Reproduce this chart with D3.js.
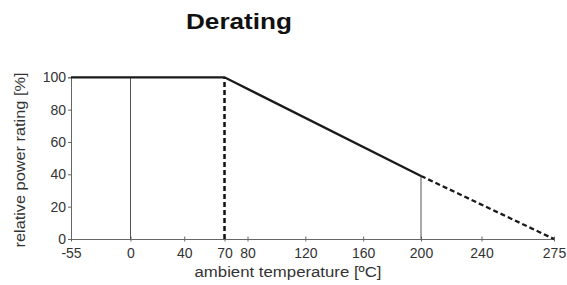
<!DOCTYPE html>
<html>
<head>
<meta charset="utf-8">
<script src="https://cdn.jsdelivr.net/npm/d3@7"></script>
<style>
  body { margin: 0; background: #fff; }
  svg { display: block; font-family: "Liberation Sans", Arial, sans-serif; }
</style>
</head>
<body>
<svg id="chart"></svg>
<script>
// derating curve (temperature in degC, rating in %)
const solidTemps = [-55, 70, 200];
const solidRating = [100, 100, 39];
const dashTemps = [200, 275];
const dashRating = [39, 0];
const xTicks = [-55, 0, 40, 70, 80, 120, 160, 200, 240, 275];
const yTicks = [0, 20, 40, 60, 80, 100];
// thin reference lines and the dashed 70 marker
const guideTemps = [0, 200];
const guideTop = [100, 39];
const kneeTemp = 70;

const W = 567, H = 285;
const svg = d3.select('#chart').attr('width', W).attr('height', H);

// the original axis is schematic, not linear at the ends, so use a piecewise scale
const x = d3.scaleLinear()
  .domain([-55, 0, 70, 80, 200, 240, 275])
  .range([71, 130.5, 224.5, 247.5, 421, 481.5, 554]);
const y = d3.scaleLinear().domain([0, 100]).range([239, 77.3]);

// Title (source image is a bit stretched horizontally, hence textLength)
svg.append('text')
  .attr('x', 239).attr('y', 29)
  .attr('text-anchor', 'middle')
  .attr('textLength', 106).attr('lengthAdjust', 'spacingAndGlyphs')
  .style('font-size', '22px')
  .style('font-weight', 'bold')
  .style('fill', '#111')
  .text('Derating');

// x axis
const xAxisG = svg.append('g')
  .attr('transform', `translate(0,${y(0)})`)
  .call(d3.axisBottom(x).tickValues(xTicks).tickSize(0).tickPadding(9).tickFormat(d => String(d)));
xAxisG.select('.domain').attr('stroke', '#666');
xAxisG.selectAll('.tick line').attr('y1', -2.5).attr('y2', 2.5).attr('stroke', '#666');
xAxisG.selectAll('.tick text').style('font-size', '14px').style('fill', '#333')
  .style('font-family', '"Liberation Sans", Arial, sans-serif');

// y axis
const yAxisG = svg.append('g')
  .attr('transform', `translate(${x(-55)},0)`)
  .call(d3.axisLeft(y).tickValues(yTicks).tickSize(3).tickPadding(2));
yAxisG.select('.domain').attr('stroke', '#666');
yAxisG.selectAll('.tick line').attr('stroke', '#666');
yAxisG.selectAll('.tick text').style('font-size', '14px').style('fill', '#333')
  .style('font-family', '"Liberation Sans", Arial, sans-serif');

// axis labels
svg.append('text')
  .attr('x', 288).attr('y', 277)
  .attr('text-anchor', 'middle')
  .attr('textLength', 187).attr('lengthAdjust', 'spacingAndGlyphs')
  .style('font-size', '15.5px').style('fill', '#333')
  .text('ambient temperature [ºC]');

svg.append('text')
  .attr('transform', 'rotate(-90)')
  .attr('x', -160).attr('y', 25)
  .attr('text-anchor', 'middle')
  .attr('textLength', 175).attr('lengthAdjust', 'spacingAndGlyphs')
  .style('font-size', '15.5px').style('fill', '#333')
  .text('relative power rating [%]');

// thin guide lines at 0 and 200
svg.selectAll('.guide')
  .data(guideTemps)
  .join('line')
  .attr('class', 'guide')
  .attr('x1', d => x(d)).attr('x2', d => x(d))
  .attr('y1', y(0)).attr('y2', (d, i) => y(guideTop[i]))
  .attr('stroke', '#555').attr('stroke-width', 1);

// dashed vertical at the knee
svg.append('line')
  .attr('x1', x(kneeTemp)).attr('x2', x(kneeTemp))
  .attr('y1', y(0)).attr('y2', y(100))
  .attr('stroke', '#111').attr('stroke-width', 2.5)
  .attr('stroke-dasharray', '5,3');

const line = d3.line().x(d => x(d[0])).y(d => y(d[1]));

svg.append('path')
  .datum(solidTemps.map((t, i) => [t, solidRating[i]]))
  .attr('d', line)
  .attr('fill', 'none').attr('stroke', '#1a1a1a').attr('stroke-width', 2.3);

svg.append('path')
  .datum(dashTemps.map((t, i) => [t, dashRating[i]]))
  .attr('d', line)
  .attr('fill', 'none').attr('stroke', '#1a1a1a').attr('stroke-width', 2.3)
  .attr('stroke-dasharray', '5,3');
</script>
</body>
</html>
